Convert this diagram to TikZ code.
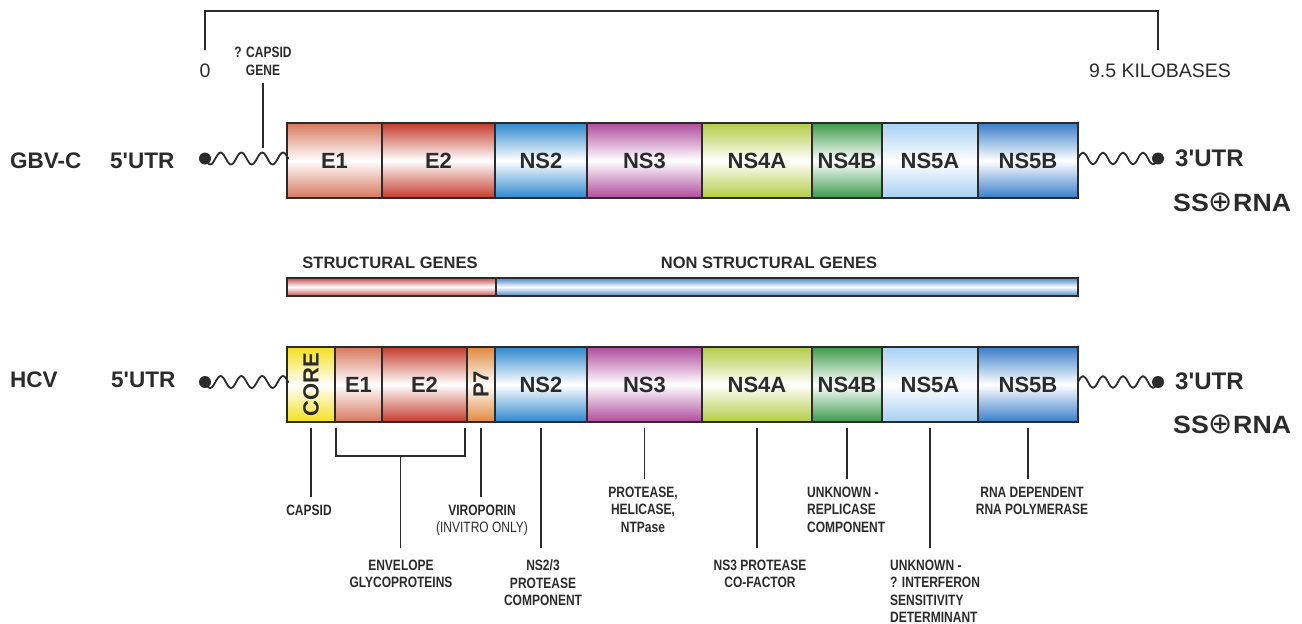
\documentclass[tikz,border=0pt]{standalone}
\usepackage{fontspec}
\usepackage{graphicx}
\setmainfont{Liberation Sans}
\newfontfamily\narrowfont{Liberation Sans}[FakeStretch=0.8]
\newfontfamily\widefont{Liberation Sans}[FakeStretch=1.07]
\newfontfamily\symfont{DejaVu Sans}
\usetikzlibrary{calc}
\newcommand\sq{\XeTeXglyph\XeTeXcharglyph"27\relax}
\newcommand\oplussym{{\symfont\mdseries\fontsize{29}{29}\selectfont ⊕}}
\definecolor{ink}{HTML}{2B2B2B}
\definecolor{cEa}{HTML}{D7775E}
\definecolor{cEb}{HTML}{C53B2B}
\definecolor{cNa}{HTML}{2E88CF}
\definecolor{cNb}{HTML}{B04C9C}
\definecolor{cNc}{HTML}{B3CB45}
\definecolor{cNd}{HTML}{3D994B}
\definecolor{cNe}{HTML}{A5D0F2}
\definecolor{cNf}{HTML}{3A7DC9}
\definecolor{cCore}{HTML}{F4DE1E}
\definecolor{cPs}{HTML}{E0873A}
\definecolor{cStr}{HTML}{C44E4E}
\definecolor{cNon}{HTML}{4A86C6}
\begin{document}
\begin{tikzpicture}[x=1pt,y=-1pt,
  gene/.style={draw=ink, line width=1.1pt, inner sep=0pt, outer sep=0pt,
    minimum height=75pt, anchor=west, text=ink,
    font=\bfseries\fontsize{22}{24}\selectfont,
    top color=#1, bottom color=#1, middle color=white},
  bar/.style={draw=ink, line width=1.1pt, inner sep=0pt, outer sep=0pt,
    minimum height=18pt, anchor=west,
    top color=#1, bottom color=#1, middle color=white},
  lbl/.style={inner sep=0pt, text height=16.1pt, text depth=0pt, anchor=west,
    text=ink, font=\bfseries\fontsize{22.5}{26}\selectfont},
  lblr/.style={inner sep=0pt, text height=17.2pt, text depth=0pt, anchor=west,
    text=ink, font=\bfseries\fontsize{24}{26}\selectfont},
  ssl/.style={inner sep=0pt, text height=17.9pt, text depth=0pt, anchor=west,
    text=ink, font=\widefont\bfseries\fontsize{25}{28}\selectfont},
  reg/.style={inner sep=0pt, text height=14pt, text depth=0pt,
    text=ink, font=\fontsize{19.5}{22}\selectfont},
  grp/.style={inner sep=0pt, text height=11.8pt, text depth=0pt,
    text=ink, font=\bfseries\fontsize{16.5}{19}\selectfont},
  small/.style={inner sep=0pt, align=center, anchor=north, text=ink,
    font=\narrowfont\bfseries\fontsize{15}{17.5}\selectfont},
  rule/.style={draw=ink, line width=1.4pt},
  dotc/.style={circle, fill=ink, inner sep=0pt, minimum size=12pt},
  wave/.style={draw=ink, line width=1.8pt, line join=round}
]
\useasboundingbox (0,0) rectangle (1302,624);

% ---- scale bracket
\coordinate (sc0) at (205,50);
\coordinate (sc1) at (1158,50);
\coordinate (sctop) at (0,11);
\draw[rule] (sc0) -- (sc0 |- sctop) -- (sc1 |- sctop) -- (sc1);
\node[reg] (zero) at (205,70) {0};
\node[reg] (kb) at (1160,70) {9.5 KILOBASES};
\node[small] (capg) at (263,47) {? CAPSID\\GENE};
\coordinate (capgend) at (263,148);
\draw[rule] ([yshift=-7pt]capg.south) -- (capgend);

% ---- GBV-C
\node[lbl] (gname) at (10,160) {GBV-C};
\node[lbl] (gfive) at (110,160) {5\sq UTR};
\node[gene=cEa, minimum width=95pt] (gEa) at (287,160.5) {E1};
\node[gene=cEb, minimum width=113pt] (gEb) at (gEa.east) {E2};
\node[gene=cNa, minimum width=92pt] (gNa) at (gEb.east) {NS2};
\node[gene=cNb, minimum width=115pt] (gNb) at (gNa.east) {NS3};
\node[gene=cNc, minimum width=110pt] (gNc) at (gNb.east) {NS4A};
\node[gene=cNd, minimum width=70pt] (gNd) at (gNc.east) {NS4B};
\node[gene=cNe, minimum width=96pt] (gNe) at (gNd.east) {NS5A};
\node[gene=cNf, minimum width=100pt] (gNf) at (gNe.east) {NS5B};
\node[dotc] (gdl) at (205,158.5) {};
\node[dotc] (gdr) at (1158,158.5) {};
\draw[wave] (gdl.center)
  sin ++(5.2,6) cos ++(5.2,-6) sin ++(5.2,-6) cos ++(5.2,6)
  sin ++(5.2,6) cos ++(5.2,-6) sin ++(5.2,-6) cos ++(5.2,6)
  sin ++(5.2,6) cos ++(5.2,-6) sin ++(5.2,-6) cos ++(5.2,6)
  sin ++(5.2,6) cos ++(5.2,-6) sin ++(5.2,-6) cos ++(5.2,6) -- (gEa.west |- gdl);
\draw[wave] (gNf.east |- gdr)
  sin ++(5,-6) cos ++(5,6) sin ++(5,6) cos ++(5,-6)
  sin ++(5,-6) cos ++(5,6) sin ++(5,6) cos ++(5,-6)
  sin ++(5,-6) cos ++(5,6) sin ++(5,6) cos ++(5,-6)
  sin ++(5,-6) cos ++(5,6) sin ++(5,6) cos ++(5,-6) -- (gdr.center);
\node[lblr] (gthree) at (1175,158) {3\sq UTR};
\node[ssl] (gss) at (1173,203) {SS\oplussym RNA};

% ---- structural bars
\node[bar=cStr, minimum width=209pt] (sbar) at (287,287) {};
\node[bar=cNon, minimum width=582pt] (nbar) at (sbar.east) {};
\node[grp] (slab) at (390,263) {STRUCTURAL GENES};
\node[grp] (nlab) at (769,263) {NON STRUCTURAL GENES};

% ---- HCV
\node[lbl] (hname) at (10,379) {HCV};
\node[lbl] (hfive) at (111,379) {5\sq UTR};
\node[gene=cCore, minimum width=48pt] (hCore) at (287,384.5) {\rotatebox{90}{CORE}};
\node[gene=cEa, minimum width=47pt] (hEa) at (hCore.east) {E1};
\node[gene=cEb, minimum width=85pt] (hEb) at (hEa.east) {E2};
\node[gene=cPs, minimum width=28pt] (hP) at (hEb.east) {\rotatebox{90}{P7}};
\node[gene=cNa, minimum width=92pt] (hNa) at (hP.east) {NS2};
\node[gene=cNb, minimum width=115pt] (hNb) at (hNa.east) {NS3};
\node[gene=cNc, minimum width=110pt] (hNc) at (hNb.east) {NS4A};
\node[gene=cNd, minimum width=70pt] (hNd) at (hNc.east) {NS4B};
\node[gene=cNe, minimum width=96pt] (hNe) at (hNd.east) {NS5A};
\node[gene=cNf, minimum width=100pt] (hNf) at (hNe.east) {NS5B};
\node[dotc] (hdl) at (205,382) {};
\node[dotc] (hdr) at (1158,382) {};
\draw[wave] (hdl.center)
  sin ++(5.2,6) cos ++(5.2,-6) sin ++(5.2,-6) cos ++(5.2,6)
  sin ++(5.2,6) cos ++(5.2,-6) sin ++(5.2,-6) cos ++(5.2,6)
  sin ++(5.2,6) cos ++(5.2,-6) sin ++(5.2,-6) cos ++(5.2,6)
  sin ++(5.2,6) cos ++(5.2,-6) sin ++(5.2,-6) cos ++(5.2,6) -- (hCore.west |- hdl);
\draw[wave] (hNf.east |- hdr)
  sin ++(5,-6) cos ++(5,6) sin ++(5,6) cos ++(5,-6)
  sin ++(5,-6) cos ++(5,6) sin ++(5,6) cos ++(5,-6)
  sin ++(5,-6) cos ++(5,6) sin ++(5,6) cos ++(5,-6)
  sin ++(5,-6) cos ++(5,6) sin ++(5,6) cos ++(5,-6) -- (hdr.center);
\node[lblr] (hthree) at (1175,381) {3\sq UTR};
\node[ssl] (hss) at (1173,425) {SS\oplussym RNA};

% ---- function labels
\node[small] (lcap) at (309,504.6) {CAPSID};
\node[small] (lenv) at (401,559.6) {ENVELOPE\\GLYCOPROTEINS};
\node[small] (lvir) at (482,504.6) {VIROPORIN\\{\mdseries(INVITRO ONLY)}};
\node[small] (lnsb) at (543,559.6) {NS2/3\\PROTEASE\\COMPONENT};
\node[small] (lpro) at (643,486.6) {PROTEASE,\\HELICASE,\\NTPase};
\node[small] (lcof) at (760,559.6) {NS3 PROTEASE\\CO-FACTOR};
\node[small, anchor=north west, align=left] (lrep) at (807,486.6) {UNKNOWN -\\REPLICASE\\COMPONENT};
\node[small, anchor=north west, align=left] (lifn) at (890,559.6) {UNKNOWN -\\? INTERFERON\\SENSITIVITY\\DETERMINANT};
\node[small] (lpol) at (1032,486.6) {RNA DEPENDENT\\RNA POLYMERASE};

\draw[rule] ([yshift=-6pt]hCore.south) -- ([yshift=8pt]lcap.north -| hCore.south);
\coordinate (envl) at ([xshift=1pt,yshift=-6pt]hEa.south west);
\coordinate (envr) at ([xshift=-2pt,yshift=-6pt]hEb.south east);
\coordinate (envm) at ([yshift=-28pt]$(envl)!0.5!(envr)$);
\draw[rule] (envl) -- ++(0,28) -| (envr);
\draw[rule] (envm) -- ([yshift=12pt]lenv.north -| envm);
\draw[rule] ([yshift=-6pt]hP.south) -- ([yshift=8pt]lvir.north -| hP.south);
\draw[rule] ([yshift=-6pt]hNa.south) -- ([yshift=12pt]lnsb.north -| hNa.south);
\draw[rule] ([yshift=-6pt]hNb.south) -- ([yshift=8pt]lpro.north -| hNb.south);
\draw[rule] ([yshift=-6pt]hNc.south) -- ([yshift=12pt]lcof.north -| hNc.south);
\draw[rule] ([yshift=-6pt]hNd.south) -- ([yshift=8pt]lrep.north -| hNd.south);
\draw[rule] ([yshift=-6pt]hNe.south) -- ([yshift=12pt]lifn.north -| hNe.south);
\draw[rule] ([yshift=-6pt]hNf.south) -- ([yshift=8pt]lpol.north -| hNf.south);
\end{tikzpicture}
\end{document}
